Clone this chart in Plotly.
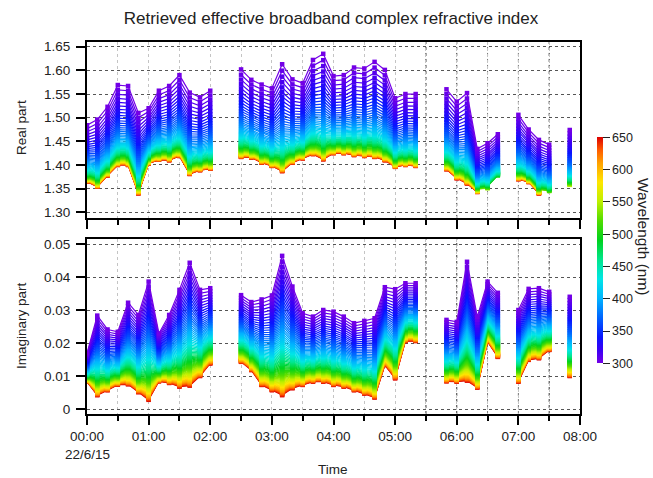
import plotly.graph_objects as go
from plotly.colors import sample_colorscale

DAY = "2015-06-22"

# Sampling times (HH:MM); None separates the measurement blocks
times = [
    "00:00", "00:10", "00:20", "00:30", "00:40", "00:50", "01:00", "01:10", "01:20", "01:30", "01:40", "01:50", "02:00",
    None,
    "02:30", "02:40", "02:50", "03:00", "03:10", "03:20", "03:30", "03:40", "03:50", "04:00", "04:10", "04:20",
    "04:30", "04:40", "04:50", "05:00", "05:10", "05:20",
    None,
    "05:50", "06:00", "06:10", "06:20", "06:30", "06:40",
    None,
    "07:00", "07:10", "07:20", "07:30",
    None,
    "07:50",
]

# Real part at the shortest wavelength (300 nm)
real_short = [
    1.484, 1.496, 1.523, 1.569, 1.567, 1.510, 1.520, 1.557, 1.567, 1.590, 1.553, 1.543, 1.557,
    None,
    1.602, 1.580, 1.570, 1.562, 1.613, 1.581, 1.573, 1.622, 1.635, 1.588, 1.590, 1.606,
    1.604, 1.618, 1.601, 1.541, 1.550, 1.550,
    None,
    1.560, 1.534, 1.552, 1.434, 1.446, 1.465,
    None,
    1.506, 1.475, 1.453, 1.443,
    None,
    1.474,
]

# Real part at the longest retrieved wavelength
real_long = [
    1.365, 1.354, 1.378, 1.400, 1.400, 1.340, 1.403, 1.411, 1.410, 1.419, 1.381, 1.389, 1.392,
    None,
    1.417, 1.416, 1.405, 1.398, 1.387, 1.405, 1.414, 1.423, 1.412, 1.425, 1.425, 1.421,
    1.419, 1.417, 1.410, 1.396, 1.400, 1.398,
    None,
    1.391, 1.372, 1.361, 1.343, 1.351, 1.378,
    None,
    1.370, 1.364, 1.340, 1.345,
    None,
    1.358,
]

# Longest wavelength (nm) retrieved for the real part
real_lam_max = [
    650, 650, 650, 650, 650, 650, 650, 650, 650, 650, 650, 650, 650,
    None,
    650, 650, 650, 650, 650, 650, 650, 650, 650, 650, 650, 650,
    650, 650, 650, 650, 650, 650,
    None,
    650, 650, 650, 650, 540, 500,
    None,
    650, 650, 650, 530,
    None,
    560,
]

# Imaginary part at 300 nm
imag_short = [
    0.0170, 0.0284, 0.0242, 0.0235, 0.0323, 0.0286, 0.0387, 0.0230, 0.0286, 0.0362, 0.0444, 0.0362, 0.0367,
    None,
    0.0346, 0.0325, 0.0333, 0.0345, 0.0465, 0.0372, 0.0291, 0.0281, 0.0301, 0.0296, 0.0281, 0.0261,
    0.0268, 0.0276, 0.0370, 0.0364, 0.0382, 0.0382,
    None,
    0.0271, 0.0265, 0.0447, 0.0280, 0.0387, 0.0353,
    None,
    0.0301, 0.0365, 0.0367, 0.0356,
    None,
    0.0341,
]

# Imaginary part at 650 nm
imag_long = [
    0.0084, 0.0043, 0.0058, 0.0075, 0.0076, 0.0052, 0.0029, 0.0085, 0.0080, 0.0069, 0.0072, 0.0101, 0.0139,
    None,
    0.0144, 0.0119, 0.0074, 0.0058, 0.0043, 0.0064, 0.0074, 0.0084, 0.0084, 0.0074, 0.0069, 0.0058,
    0.0048, 0.0036, 0.0134, 0.0094, 0.0207, 0.0207,
    None,
    0.0085, 0.0084, 0.0087, 0.0066, 0.0205, 0.0159,
    None,
    0.0084, 0.0150, 0.0155, 0.0180,
    None,
    0.0101,
]

wavelengths = list(range(300, 655, 5))
LAM_MIN, LAM_MAX = 300, 650
REAL_EXP = 3.5   # spectral exponent of the real-part dispersion
IMAG_EXP = 2.0   # spectral exponent of the imaginary-part dispersion

wave_scale = [
    [0.000, "#7300e6"],
    [0.057, "#3a00f5"],
    [0.114, "#0a14ff"],
    [0.200, "#0064ff"],
    [0.286, "#00b4ff"],
    [0.371, "#00e6e6"],
    [0.457, "#00e68c"],
    [0.543, "#00d21e"],
    [0.629, "#50dc00"],
    [0.714, "#bef000"],
    [0.800, "#ffe600"],
    [0.886, "#ffa000"],
    [0.943, "#ff5a00"],
    [1.000, "#dc0000"],
]

FONT = "Liberation Sans, Arial, sans-serif"
TXT = "#222222"

x_time = [f"{DAY} {t}:00" if t else None for t in times]


def spectral(v_short, v_long, lam, lam_top, p):
    """Value at wavelength lam between the 300 nm and lam_top end members."""
    if v_short is None or lam > lam_top:
        return None
    g = (lam ** -p - lam_top ** -p) / (LAM_MIN ** -p - lam_top ** -p)
    return v_long + (v_short - v_long) * g


fig = go.Figure()

for lam in reversed(wavelengths):
    col = sample_colorscale(wave_scale, [(lam - LAM_MIN) / (LAM_MAX - LAM_MIN)])[0]
    yr = [spectral(s, l, lam, m if m else LAM_MAX, REAL_EXP)
          for s, l, m in zip(real_short, real_long, real_lam_max)]
    yi = [spectral(s, l, lam, LAM_MAX, IMAG_EXP) for s, l in zip(imag_short, imag_long)]
    style = dict(mode="lines+markers", line=dict(color=col, width=1.2),
                 marker=dict(symbol="square", size=4.5, color=col, line=dict(width=0)),
                 showlegend=False, hoverinfo="skip", connectgaps=False)
    fig.add_trace(go.Scatter(x=x_time, y=yr, xaxis="x", yaxis="y", **style))
    fig.add_trace(go.Scatter(x=x_time, y=yi, xaxis="x2", yaxis="y2", **style))

# colour bar for wavelength
fig.add_trace(go.Scatter(
    x=[None], y=[None], mode="markers", showlegend=False, hoverinfo="skip",
    marker=dict(color=[LAM_MIN], cmin=LAM_MIN, cmax=LAM_MAX, colorscale=wave_scale,
                showscale=True,
                colorbar=dict(x=1.0345, xanchor="left", y=0.44, yanchor="middle",
                              lenmode="pixels", len=226, thickness=6,
                              xpad=0, ypad=0, outlinewidth=0,
                              ticks="outside", ticklen=7, tickcolor="#222",
                              tickvals=list(range(300, 651, 50)),
                              tickfont=dict(family=FONT, size=12.5, color=TXT))),
))

t0 = f"{DAY} 00:00:00"
t1 = f"{DAY} 08:00:00"

xcommon = dict(
    type="date", range=[t0, t1], tick0=t0, dtick=3600000, tickformat="%H:%M",
    showline=True, linewidth=2, linecolor="black", mirror=True,
    ticks="outside", ticklen=9, tickwidth=1.5, tickcolor="black",
    showgrid=True, gridcolor="#c4c4c4", griddash="dot", gridwidth=1,
    minor=dict(dtick=1800000, tick0=t0, ticks="outside", ticklen=5, tickwidth=1.5,
               tickcolor="black", showgrid=True, gridcolor="#c4c4c4", griddash="dot"),
    tickfont=dict(family=FONT, size=13.5, color=TXT), zeroline=False,
)
ycommon = dict(
    showline=True, linewidth=2, linecolor="black", mirror=True,
    ticks="outside", ticklen=9, tickwidth=1.5, tickcolor="black",
    showgrid=True, gridcolor="#555555", griddash="dot", gridwidth=1,
    tickfont=dict(family=FONT, size=13.5, color=TXT), zeroline=False,
    ticklabelstandoff=3,
)

fig.update_layout(
    width=653, height=478,
    margin=dict(l=87, r=73, t=42, b=64),
    paper_bgcolor="white", plot_bgcolor="white",
    hovermode=False,
    font=dict(family=FONT, color=TXT),
    title=dict(text="Retrieved effective broadband complex refractive index",
               x=331 / 653, xref="container", xanchor="center",
               y=1 - 18 / 478, yref="container", yanchor="middle",
               font=dict(family=FONT, size=17, color=TXT)),
    xaxis=dict(domain=[0, 1], anchor="y", showticklabels=False, **xcommon),
    yaxis=dict(domain=[0.527, 1.0], anchor="x", range=[1.288, 1.660],
               tickvals=[1.30, 1.35, 1.40, 1.45, 1.50, 1.55, 1.60, 1.65],
               tickformat=".2f", **ycommon),
    xaxis2=dict(domain=[0, 1], anchor="y2", matches="x", ticklabelstandoff=0, **xcommon),
    yaxis2=dict(domain=[0.0, 0.4704], anchor="x2", range=[-0.0014, 0.0516],
                tickvals=[0, 0.01, 0.02, 0.03, 0.04, 0.05],
                ticktext=["0", "0.01", "0.02", "0.03", "0.04", "0.05"], **ycommon),
)

# darker dotted markers at selected half-hours
shapes = []
for t, c in [("05:30", "#333333"), ("06:00", "#333333"), ("06:30", "#777777"),
             ("07:00", "#777777"), ("07:30", "#333333")]:
    for xr, yr in [("x", "y domain"), ("x2", "y2 domain")]:
        shapes.append(dict(type="line", xref=xr, yref=yr,
                           x0=f"{DAY} {t}:00", x1=f"{DAY} {t}:00", y0=0, y1=1,
                           line=dict(color=c, width=1, dash="dot"), layer="below"))
fig.update_layout(shapes=shapes)

ann = [
    dict(text="Real part", x=-0.1318, y=0.769, textangle=-90, font=dict(size=13.5)),
    dict(text="Imaginary part", x=-0.1318, y=0.2366, textangle=-90, font=dict(size=13.5)),
    dict(text="Time", x=(333 - 87) / 493, y=-0.1505, font=dict(size=13.5)),
    dict(text="22/6/15", x=0.0, y=-0.1100, font=dict(size=13.5)),
    dict(text="Wavelength (nm)", x=1.1297, y=0.4758, textangle=90, font=dict(size=15.5)),
]
for a in ann:
    a.update(xref="paper", yref="paper", showarrow=False, xanchor="center", yanchor="middle")
    a["font"].update(family=FONT, color=TXT)
fig.update_layout(annotations=ann)

fig.write_html("out.html")
